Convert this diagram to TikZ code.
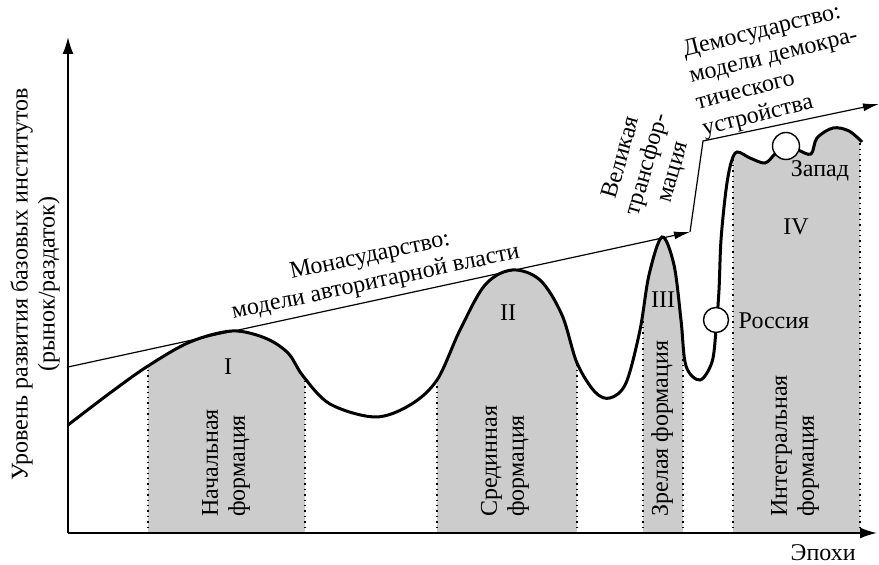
\documentclass[tikz,border=0pt]{standalone}
\usepackage{fontspec}
\setmainfont{Liberation Serif}
\usetikzlibrary{arrows.meta}

% perfil da curva (coordenadas em pixels da figura)
\newcommand{\perfil}{plot[smooth, tension = 0.55] coordinates {
	(68, 425) (110, 393) (148, 366) (190, 342) (232, 331) (265, 338) (288, 353) (303, 376)
	(330, 404) (375, 417) (410, 405) (437, 380) (460, 330) (485, 285) (512, 270) (540, 280)
	(562, 315) (577, 363) (595, 392) (610, 398) (626, 383) (640, 330) (649, 275) (662, 237)
	(674, 265) (681, 320) (686, 366) (700, 380) (712, 362) (716, 330) (719, 290) (721, 240)
	(726, 190) (731, 163) (737, 152) (750, 158) (765, 163) (775, 154) (786, 146) (798, 150)
	(811, 154) (817, 138) (833, 128) (849, 131) (862, 142)}}

\begin{document}
\begin{tikzpicture}[x = 0.5pt, y = -0.5pt,
	every node/.style = {font = \fontsize{12}{13.5}\selectfont},
	eixo/.style  = {line width = 0.9pt, -{Latex[length = 8.5pt, width = 5.5pt]}},
	rumo/.style  = {line width = 0.6pt},
	curva/.style = {line width = 1.5pt},
	ponto/.style = {circle, draw, fill = white, line width = 0.7pt, inner sep = 0pt, minimum size = 12.5pt},
	fase/.style  = {rotate = 90, anchor = west, align = left, inner sep = 0pt}]

	\useasboundingbox (0, 0) rectangle (879, 565);

	%%% FORMACOES (AREAS CINZA) %%%

	\begin{scope}
		\clip \perfil -- (862, 533) -- (68, 533) -- cycle; % Area sob a curva
		\fill[black!20] (148, 100) rectangle (305, 533);
		\fill[black!20] (437, 100) rectangle (577, 533);
		\fill[black!20] (643, 100) rectangle (683, 533);
		\fill[black!20] (733, 100) rectangle (860, 533);
		\foreach \xb in {148, 305, 437, 577, 643, 683, 733, 860}
			\draw[dotted, line width = 0.7pt] (\xb, 100) -- (\xb, 533);
	\end{scope}

	\draw[curva, black] \perfil;

	%%% EIXOS %%%

	\coordinate (O)  at (68, 533);
	\coordinate (Yt) at (68, 37);
	\coordinate (Xt) at (877, 533);

	\draw[eixo] (O) -- (Yt);
	\draw[eixo] (O) -- (Xt);

	\node[rotate = 90, align = center] (ylab) at (35, 284) {Уровень развития базовых институтов\\(рынок/раздаток)};
	\node[anchor = base east, inner sep = 0pt] (xlab) at (856, 561) {Эпохи};

	%%% LINHAS DE TENDENCIA %%%

	\coordinate (M0) at (68, 367);
	\coordinate (M1) at (690, 232);
	\coordinate (D0) at (703, 141);
	\coordinate (D1) at (879, 104);

	\draw[rumo, -{Latex[length = 8pt, width = 4pt]}] (M0) -- (M1);
	\draw[rumo, -{Latex[length = 8pt, width = 4pt]}] (M1) -- (D0) -- (D1);

	\node[rotate = 12, align = center] (mona) at (373, 270) {Монасударство:\\модели авторитарной власти};
	\node[rotate = 74, align = center] (trans) at (648, 165) {Великая\\трансфор-\\мация};
	\node[rotate = 14, align = left] (demo) at (777, 70) {Демосударство:\\модели демокра-\\тического\\устройства};

	%%% PONTОS %%%

	\node[ponto] (rus) at (716, 320) {};
	\node[ponto, minimum size = 13.5pt] (zap) at (786, 146) {};

	\node (ruslab) at (774, 321) {Россия};
	\node (zaplab) at (820, 171) {Запад};

	%%% ROTULOS DAS FORMACOES %%%

	\node (f1) at (228, 367) {I};
	\node (f2) at (508, 313) {II};
	\node (f3) at (663, 300) {III};
	\node (f4) at (796, 227) {IV};

	\node[fase] (n1) at (226, 517) {Начальная\\формация};
	\node[fase] (n2) at (505, 517) {Срединная\\формация};
	\node[fase] (n3) at (662, 517) {Зрелая формация};
	\node[fase] (n4) at (795, 517) {Интегральная\\формация};

\end{tikzpicture}
\end{document}
